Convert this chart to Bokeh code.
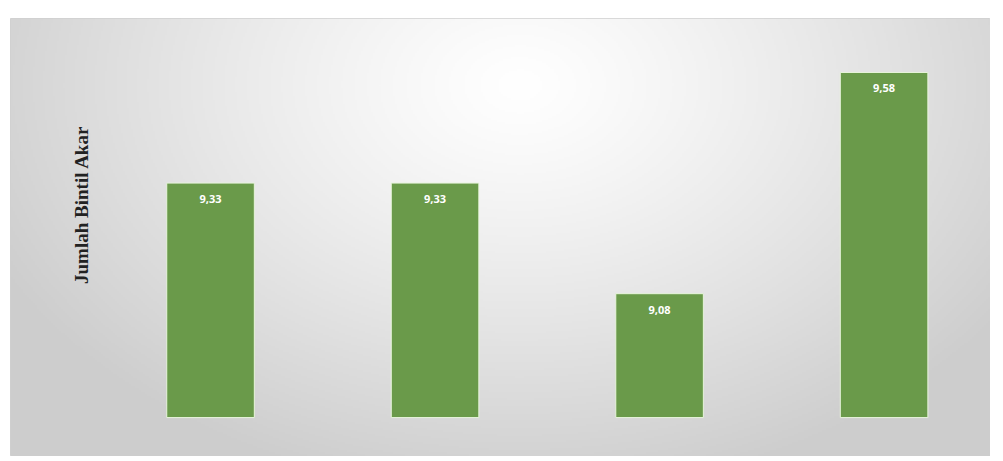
import numpy as np
from bokeh.plotting import figure
from bokeh.models import ColumnDataSource, Range1d, Label
from bokeh.core.properties import value
from bokeh.embed import file_html
from bokeh.resources import INLINE

# data
categories = ["P1", "P2", "P3", "P4"]
values = [9.33, 9.33, 9.08, 9.58]
labels = [f"{v:.2f}".replace(".", ",") for v in values]
y_title = "Jumlah Bintil Akar"
baseline = 8.8

xs = list(range(1, len(categories) + 1))
src = ColumnDataSource(dict(x=xs, top=values, label=labels, cat=categories))

x0, x1 = 0.109, 4.474
y0, y1 = 8.712, 9.702

p = figure(width=990, height=456, output_backend="svg", toolbar_location=None,
           x_range=Range1d(x0, x1), y_range=Range1d(y0, y1),
           min_border_left=10, min_border_right=0, min_border_top=18, min_border_bottom=0)
p.axis.visible = False
p.grid.visible = False
p.outline_line_color = "#d0d0d0"
p.background_fill_color = "#e0e0e0"
p.border_fill_color = "white"

# radial gradient background (row 0 = bottom)
W, H = 490, 220
gx = np.linspace(0, 1, W)[None, :]
gy = np.linspace(1, 0, H)[:, None]  # distance from top
d = np.sqrt(((gx - 0.52) / 0.6) ** 2 + ((gy - 0.15) / 0.95) ** 2)
d = np.clip(d, 0, 1)
shade = 255 - 50 * d ** 1.2
img = np.empty((H, W), dtype=np.uint32)
view = img.view(dtype=np.uint8).reshape((H, W, 4))
s = shade.astype(np.uint8)
view[:, :, 0] = s
view[:, :, 1] = s
view[:, :, 2] = s
view[:, :, 3] = 255
p.image_rgba(image=[img], x=x0, y=y0, dw=x1 - x0, dh=y1 - y0)

p.vbar(x="x", top="top", bottom=baseline, width=0.39, source=src,
       fill_color="#6a9a4a", line_color="#e8f5dc", line_width=1)

p.text(x="x", y="top", text="label", source=src, text_align="center",
       text_baseline="middle", y_offset=16, text_color="white",
       text_font=value("Open Sans"), text_font_style="bold", text_font_size="11px")

p.add_layout(Label(x=0.425, y=9.281, text=y_title, angle=np.pi / 2,
                   text_align="center", text_baseline="middle",
                   text_font="Liberation Serif", text_font_style="bold",
                   text_font_size="19px", text_color="#222222"))

open("out.html", "w").write(file_html(p, INLINE))
